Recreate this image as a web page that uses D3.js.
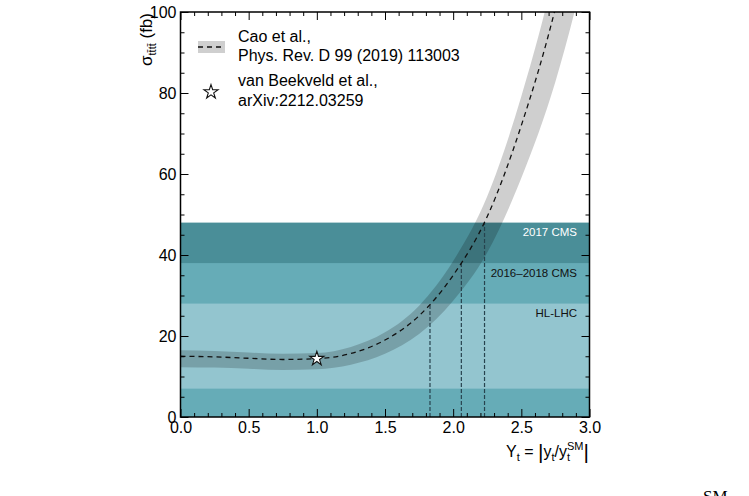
<!DOCTYPE html>
<html>
<head>
<meta charset="utf-8">
<script src="https://cdn.jsdelivr.net/npm/d3@7"></script>
<style>
  html, body { margin: 0; padding: 0; background: #fff; }
  svg { display: block; font-family: "Liberation Sans", Arial, Helvetica, sans-serif; }
</style>
</head>
<body>
<svg id="chart" width="749" height="496"></svg>
<script>
// ---------------- data ----------------
const yt        = [0.00, 0.25, 0.50, 0.75, 1.00, 1.25, 1.50, 1.75, 2.00, 2.25, 2.50, 2.75, 3.00];
const sigmaCen  = [15.0, 14.85, 14.5, 14.2, 14.4, 15.7, 19.0, 25.0, 35.0, 49.5, 72.0, 101.0, 140.0];
const sigmaUp   = [16.5, 16.3, 15.9, 15.6, 15.8, 17.3, 20.9, 27.5, 38.5, 54.5, 79.2, 111.1, 154.0];
const sigmaDown = [12.3, 12.2, 11.9, 11.6, 11.8, 12.9, 15.6, 20.5, 28.7, 40.6, 59.0, 82.8, 114.8];

const starPoint = [1.0, 14.4];   // van Beekveld et al.

// limit bands: [lower, upper] in fb, drawn in this order
const bandNames  = ["2017 CMS", "2016\u20132018 CMS", "HL-LHC"];
const bandLow    = [0, 0, 7];
const bandHigh   = [48, 38, 28];
const bandColors = ["#4a8e98", "#66acb7", "#93c5cf"];
const bandText   = ["#ffffff", "#111111", "#111111"];
// Yt where the central curve crosses each limit
const crossYt    = [2.23, 2.06, 1.83];

const xMajorTicks  = [0.0, 0.5, 1.0, 1.5, 2.0, 2.5, 3.0];
const xTickLabels  = ["0.0", "0.5", "1.0", "1.5", "2.0", "2.5", "3.0"];
const yMajorTicks  = [0, 20, 40, 60, 80, 100];
const yTickLabels  = ["0", "20", "40", "60", "80", "100"];

const legendLabels = [["Cao et al.,", "Phys. Rev. D 99 (2019) 113003"],
                      ["van Beekveld et al.,", "arXiv:2212.03259"]];

// ---------------- layout ----------------
const svg = d3.select("#chart");
const L = 180.5, R = 589.5, T = 12, B = 417;
const x = d3.scaleLinear().domain([0, 3]).range([L, R]);
const y = d3.scaleLinear().domain([0, 100]).range([B, T]);

svg.append("defs").append("clipPath").attr("id", "plotclip")
  .append("rect").attr("x", L).attr("y", T).attr("width", R - L).attr("height", B - T);

const plot = svg.append("g").attr("clip-path", "url(#plotclip)");

// bands
bandNames.forEach((n, i) => {
  plot.append("rect")
    .attr("x", x(0)).attr("width", x(3) - x(0))
    .attr("y", y(bandHigh[i])).attr("height", y(bandLow[i]) - y(bandHigh[i]))
    .attr("fill", bandColors[i]);
});

// theory band
const pts = yt.map((v, i) => ({x: v, c: sigmaCen[i], u: sigmaUp[i], d: sigmaDown[i]}));
const area = d3.area().curve(d3.curveMonotoneX)
  .x(d => x(d.x)).y0(d => y(d.d)).y1(d => y(d.u));
plot.append("path").datum(pts).attr("d", area)
  .attr("fill", "#000").attr("fill-opacity", 0.19);

// vertical dashed lines
crossYt.forEach((v, i) => {
  plot.append("line")
    .attr("x1", x(v)).attr("x2", x(v))
    .attr("y1", y(0)).attr("y2", y(bandHigh[i]))
    .attr("stroke", "#27434e").attr("stroke-width", 1.2)
    .attr("stroke-dasharray", "4,2");
});

// central curve
const line = d3.line().curve(d3.curveMonotoneX).x(d => x(d.x)).y(d => y(d.c));
plot.append("path").datum(pts).attr("d", line)
  .attr("fill", "none").attr("stroke", "#111").attr("stroke-width", 1.3)
  .attr("stroke-dasharray", "5,4");

// star
const starPath = d3.symbol().type(d3.symbolStar).size(62);
svg.append("path").attr("d", starPath())
  .attr("transform", `translate(${x(starPoint[0])},${y(starPoint[1])})`)
  .attr("fill", "#fff").attr("stroke", "#111").attr("stroke-width", 1.1);

// band labels
bandNames.forEach((n, i) => {
  svg.append("text")
    .attr("x", 577).attr("y", y(bandHigh[i]) + 13.5)
    .attr("text-anchor", "end").attr("font-size", "11.5px")
    .attr("fill", bandText[i]).text(n);
});

// ---------------- axes ----------------
const xMinor = d3.range(0, 3.0001, 0.1).filter(v => Math.abs(v * 2 - Math.round(v * 2)) > 1e-6);
const yMinor = d3.range(0, 100.001, 5).filter(v => v % 20 !== 0);

function styleAxis(g) {
  g.select(".domain").remove();
  g.selectAll("line").attr("stroke", "#000").attr("stroke-width", 1);
}

const axB = svg.append("g").attr("transform", `translate(0,${B})`)
  .call(d3.axisBottom(x).tickValues(xMajorTicks).tickSize(-8).tickSizeOuter(0).tickPadding(5)
        .tickFormat((d, i) => xTickLabels[i]));
axB.call(styleAxis);
svg.append("g").attr("transform", `translate(0,${B})`)
  .call(d3.axisBottom(x).tickValues(xMinor).tickSize(-4).tickFormat(""))
  .call(styleAxis);

svg.append("g").attr("transform", `translate(0,${T})`)
  .call(d3.axisTop(x).tickValues(xMajorTicks).tickSize(-8).tickFormat("")).call(styleAxis);
svg.append("g").attr("transform", `translate(0,${T})`)
  .call(d3.axisTop(x).tickValues(xMinor).tickSize(-4).tickFormat("")).call(styleAxis);

const axL = svg.append("g").attr("transform", `translate(${L},0)`)
  .call(d3.axisLeft(y).tickValues(yMajorTicks).tickSize(-8).tickSizeOuter(0).tickPadding(4)
        .tickFormat((d, i) => yTickLabels[i]));
axL.call(styleAxis);
svg.append("g").attr("transform", `translate(${L},0)`)
  .call(d3.axisLeft(y).tickValues(yMinor).tickSize(-4).tickFormat("")).call(styleAxis);

svg.append("g").attr("transform", `translate(${R},0)`)
  .call(d3.axisRight(y).tickValues(yMajorTicks).tickSize(-8).tickFormat("")).call(styleAxis);
svg.append("g").attr("transform", `translate(${R},0)`)
  .call(d3.axisRight(y).tickValues(yMinor).tickSize(-4).tickFormat("")).call(styleAxis);

svg.selectAll(".tick text")
  .attr("font-family", "'Liberation Sans', Arial, sans-serif")
  .attr("font-size", "16px").attr("fill", "#000");

// frame
svg.append("rect").attr("x", L).attr("y", T).attr("width", R - L).attr("height", B - T)
  .attr("fill", "none").attr("stroke", "#000").attr("stroke-width", 1.5);

// ---------------- axis titles ----------------
const yTitle = svg.append("text")
  .attr("transform", `translate(152,13) rotate(-90)`)
  .attr("text-anchor", "end").attr("font-size", "17px").attr("fill", "#000");
yTitle.append("tspan").text("\u03c3");
yTitle.append("tspan").attr("font-size", "11px").attr("dy", 4).text("tt\u0304tt\u0304");
yTitle.append("tspan").attr("dy", -4).text(" (fb)");

const xTitle = svg.append("text")
  .attr("x", 589).attr("y", 457)
  .attr("text-anchor", "end").attr("font-size", "16px").attr("fill", "#000");
xTitle.append("tspan").text("Y");
xTitle.append("tspan").attr("font-size", "11px").attr("dy", 4).text("t");
xTitle.append("tspan").attr("dy", -4).text(" = ");
xTitle.append("tspan").attr("font-size", "21px").attr("dy", 2).text("|");
xTitle.append("tspan").attr("dy", -2).text("y");
xTitle.append("tspan").attr("font-size", "11px").attr("dy", 4).text("t");
xTitle.append("tspan").attr("dy", -4).text("/y");
xTitle.append("tspan").attr("font-size", "11px").attr("dy", 4).text("t");
xTitle.append("tspan").attr("font-size", "11px").attr("dx", -3).attr("dy", -11).text("SM");
xTitle.append("tspan").attr("font-size", "21px").attr("dy", 9).text("|");

// ---------------- legend ----------------
const lg = svg.append("g");
lg.append("rect").attr("x", 198).attr("y", 41).attr("width", 27).attr("height", 12)
  .attr("fill", "#000").attr("fill-opacity", 0.19);
lg.append("line").attr("x1", 198).attr("x2", 225).attr("y1", 47).attr("y2", 47)
  .attr("stroke", "#111").attr("stroke-width", 1.3).attr("stroke-dasharray", "5,4");
lg.append("path").attr("d", starPath())
  .attr("transform", "translate(211,92)")
  .attr("fill", "#fff").attr("stroke", "#111").attr("stroke-width", 1.1);
const legBase = [[41.5, 61], [86, 105.5]];
legendLabels.forEach((lines, i) => {
  lines.forEach((t, j) => {
    lg.append("text").attr("x", 238).attr("y", legBase[i][j])
      .attr("font-size", "16px").attr("fill", "#000").text(t);
  });
});

// cut-off page fragments at the bottom edge
svg.append("text").attr("x", 5).attr("y", 515)
  .attr("font-family", "'Liberation Serif', serif").attr("font-size", "30px").text("Y");
svg.append("text").attr("x", 703).attr("y", 502)
  .attr("font-family", "'Liberation Serif', serif").attr("font-size", "17px").text("SM");
</script>
</body>
</html>
